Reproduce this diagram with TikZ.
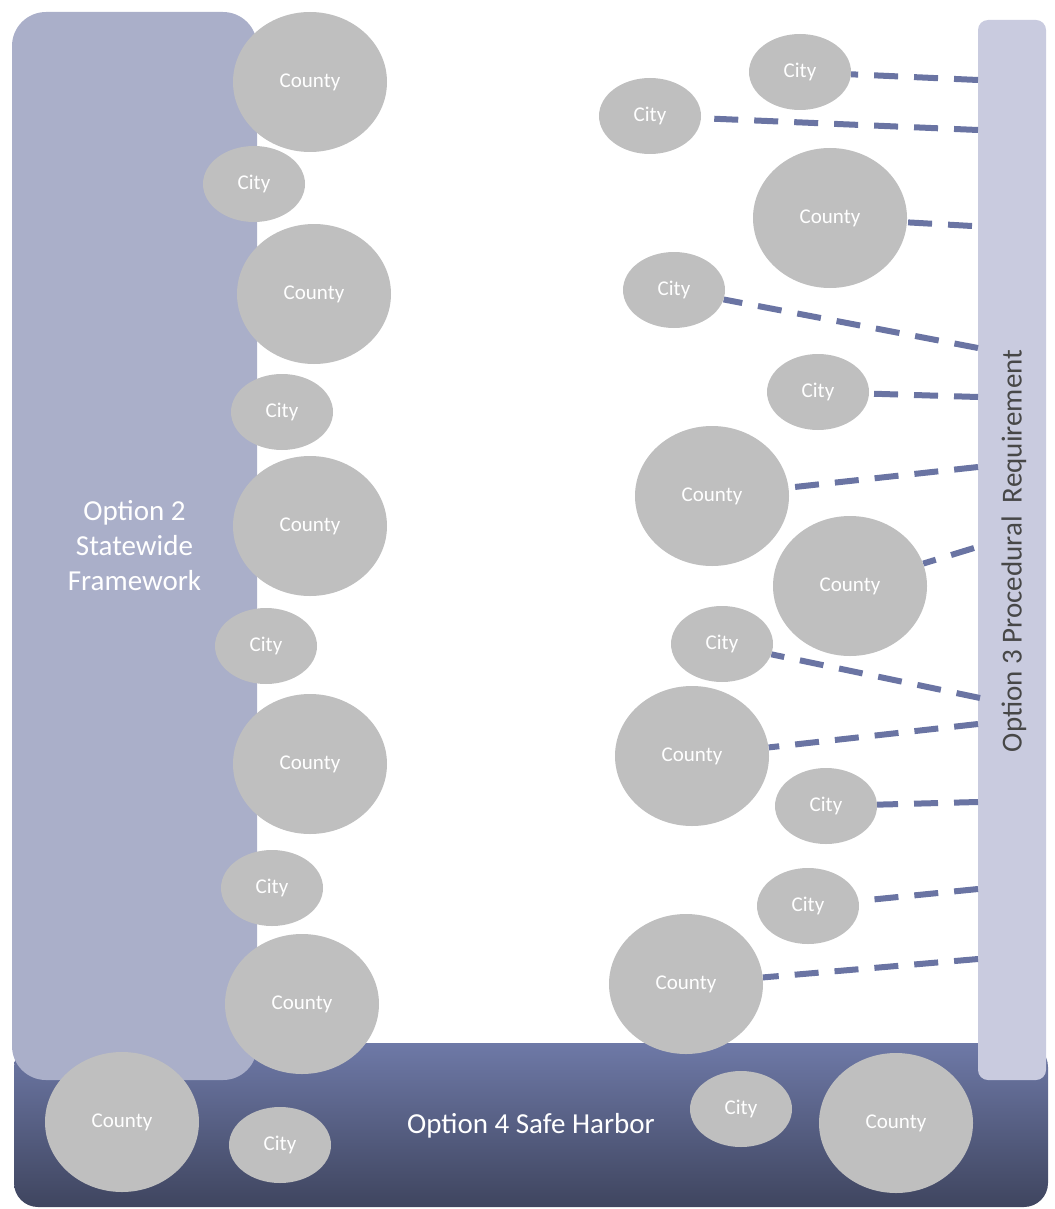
\documentclass[tikz,border=0pt]{standalone}
\usepackage{fontspec}
\setmainfont{Carlito}
\usetikzlibrary{shapes.geometric,backgrounds}
\definecolor{cellgray}{HTML}{BFBFBF}
\definecolor{frameblue}{HTML}{AAAFC9}
\definecolor{barlight}{HTML}{C9CBDF}
\definecolor{harbortop}{HTML}{6E79A7}
\definecolor{harborbot}{HTML}{3F455F}
\definecolor{linkblue}{HTML}{6A74A3}

\begin{document}
\begin{tikzpicture}[x=1pt, y=-1pt, every node/.style={text=white},
  county/.style={ellipse, fill=cellgray, minimum width=154pt, minimum height=140pt, inner sep=0pt, font=\fontsize{21}{25}\selectfont},
  city/.style={ellipse, fill=cellgray, minimum width=102pt, minimum height=76pt, inner sep=0pt, font=\fontsize{21}{25}\selectfont},
  option/.style={font=\fontsize{29}{35}\selectfont, align=center},
  link/.style={draw=linkblue, line width=6pt, dash pattern=on 24pt off 16pt}]
  \useasboundingbox (0,0) rectangle (1054,1209);

  % left column
  \node (L1) [county] at (310,82) {County};
  \node (L2) [city] at (254,184) {City};
  \node (L3) [county] at (314,294) {County};
  \node (L4) [city] at (282,412) {City};
  \node (L5) [county] at (310,526) {County};
  \node (L6) [city] at (266,646) {City};
  \node (L7) [county] at (310,764) {County};
  \node (L8) [city] at (272,888) {City};
  \node (L9) [county] at (302,1004) {County};

  % bottom row
  \node (B1) [county] at (122,1122) {County};
  \node (B2) [city] at (280,1145) {City};
  \node (B3) [city] at (741,1109) {City};
  \node (B4) [county] at (896,1123) {County};

  % right column
  \node (R1) [city] at (800,72) {City};
  \node (R2) [city] at (650,116) {City};
  \node (R3) [county] at (830,218) {County};
  \node (R4) [city] at (674,290) {City};
  \node (R5) [city] at (818,392) {City};
  \node (R6) [county] at (712,496) {County};
  \node (R7) [county] at (850,586) {County};
  \node (R8) [city] at (722,644) {City};
  \node (R9) [county] at (692,756) {County};
  \node (R10) [city] at (826,806) {City};
  \node (R11) [city] at (808,906) {City};
  \node (R12) [county] at (686,984) {County};

  \begin{scope}[on background layer]
    \node (harbor) [option, rounded corners=24pt, top color=harbortop, bottom color=harborbot,
      minimum width=1034pt, minimum height=164pt] at (531,1125) {};
    \node (framework) [option, rounded corners=34pt, fill=frameblue,
      minimum width=245pt, minimum height=1068pt] at (134.5,546) {};
    \node (procedural) [rounded corners=10pt, fill=barlight,
      minimum width=68pt, minimum height=1060pt] at (1012,550) {};
    \node [option] at (framework) {Option 2\\Statewide\\Framework};
    \node [option] at (531,1126) {Option 4 Safe Harbor};
    \node [text=black!72, rotate=90, font=\fontsize{29}{34}\selectfont] at (1014,551)
      {Option 3 Procedural\ \ Requirement};

    \coordinate (e1) at (978,80);
    \coordinate (e2) at (978,130);
    \coordinate (e3) at (972,226);
    \coordinate (e4) at (978,348);
    \coordinate (e5) at (978,397);
    \coordinate (e6) at (978,467);
    \coordinate (e7) at (974,548);
    \coordinate (e8) at (980,698);
    \coordinate (e9) at (978,724);
    \coordinate (e10) at (978,802);
    \coordinate (e11) at (978,889);
    \coordinate (e12) at (978,959);
    \foreach \i in {1,...,12}
      \draw [link] (e\i) -- (R\i);
  \end{scope}
\end{tikzpicture}
\end{document}
